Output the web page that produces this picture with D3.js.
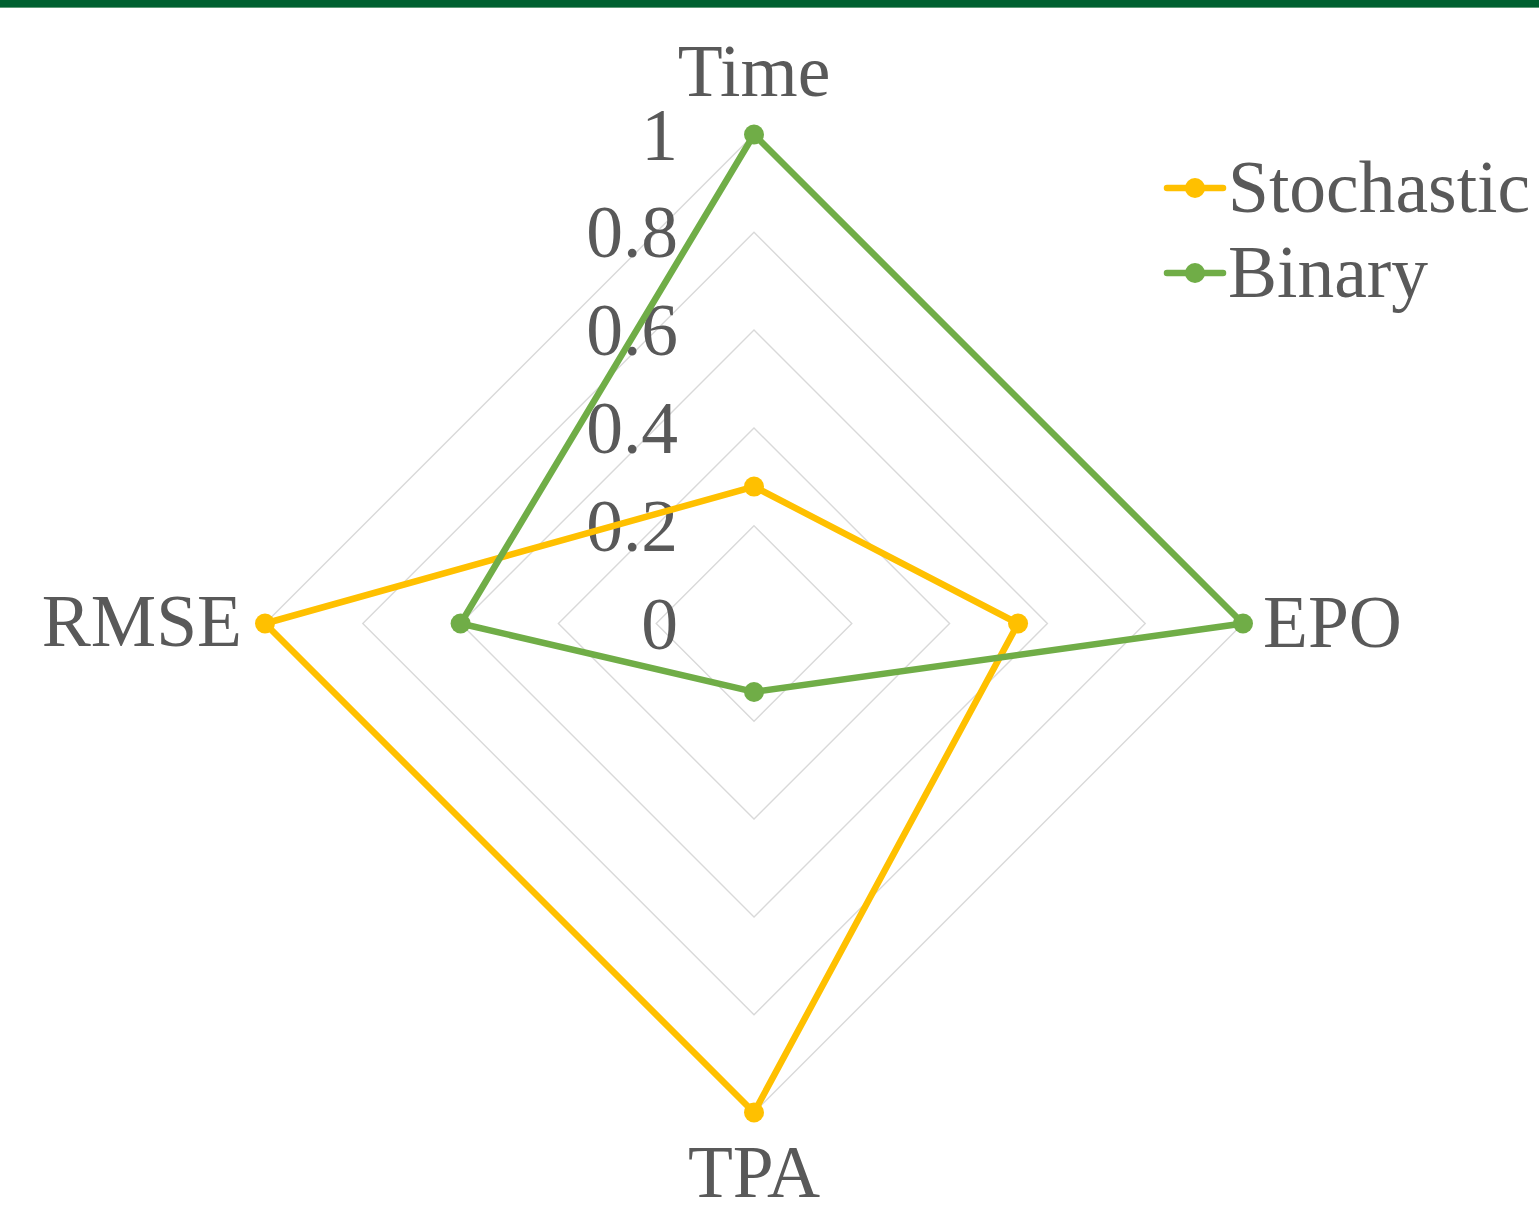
<!DOCTYPE html>
<html>
<head>
<meta charset="utf-8">
<script src="https://cdn.jsdelivr.net/npm/d3@7"></script>
<style>
  html, body { margin: 0; padding: 0; background: #ffffff; }
  svg { display: block; }
  text { font-family: "Liberation Serif", "Times New Roman", serif; fill: #595959; }
</style>
</head>
<body>
<svg id="chart" width="1539" height="1206"></svg>
<script>
// Radar axes, clockwise from the top
const axes = ["Time", "EPO", "TPA", "RMSE"];
// Normalised scores per method
const stochastic = [0.28, 0.54, 1.0, 1.0];
const binary = [1.0, 1.0, 0.14, 0.6];
const tickValues = [0, 0.2, 0.4, 0.6, 0.8, 1];
const tickLabels = ["0", "0.2", "0.4", "0.6", "0.8", "1"];
const seriesNames = ["Stochastic", "Binary"];
const seriesColors = ["#FFC000", "#70AD47"];

const svg = d3.select("#chart");
const W = 1539, H = 1206;
const cx = 754, cy = 623.5;
const FS = 73.5;

// Header band
svg.append("rect").attr("x", 0).attr("y", 0).attr("width", W).attr("height", 7).attr("fill", "#006030");
svg.append("rect").attr("x", 0).attr("y", 7).attr("width", W).attr("height", 1).attr("fill", "#5e9a78");

const r = d3.scaleLinear().domain([0, 1]).range([0, 489]);
const angle = d3.scalePoint().domain(axes).range([0, 2 * Math.PI * (axes.length - 1) / axes.length]);

const g = svg.append("g").attr("transform", `translate(${cx},${cy})`);

// Grid polygons
const ring = d3.lineRadial().angle(d => angle(d)).curve(d3.curveLinearClosed);
g.selectAll("path.grid")
  .data(tickValues.filter(v => v > 0))
  .join("path")
  .attr("class", "grid")
  .attr("d", v => ring.radius(() => r(v))(axes))
  .attr("fill", "none")
  .attr("stroke", "#d9d9d9")
  .attr("stroke-width", 1.4);

// Tick labels along the top spoke
g.selectAll("text.tick")
  .data(tickValues)
  .join("text")
  .attr("class", "tick")
  .attr("x", -76)
  .attr("y", v => -r(v))
  .attr("dy", "0.34em")
  .attr("text-anchor", "end")
  .attr("font-size", FS)
  .text((v, i) => tickLabels[i]);

// Series polygons and markers
const series = [stochastic, binary];
const line = d3.lineRadial()
  .angle((d, i) => angle(axes[i]))
  .radius(d => r(d))
  .curve(d3.curveLinearClosed);

series.forEach((vals, si) => {
  g.append("path")
    .attr("d", line(vals))
    .attr("fill", "none")
    .attr("stroke", seriesColors[si])
    .attr("stroke-width", 6.5)
    .attr("stroke-linejoin", "round");
  g.selectAll(null)
    .data(vals)
    .join("circle")
    .attr("cx", (d, i) => r(d) * Math.sin(angle(axes[i])))
    .attr("cy", (d, i) => -r(d) * Math.cos(angle(axes[i])))
    .attr("r", 10)
    .attr("fill", seriesColors[si]);
});

// Axis labels
const labelPos = {
  Time: { x: 0, y: -528, anchor: "middle" },
  EPO: { x: 509, y: 23, anchor: "start" },
  TPA: { x: 0, y: 573, anchor: "middle" },
  RMSE: { x: -512, y: 22, anchor: "end" }
};
axes.forEach(a => {
  g.append("text")
    .attr("x", labelPos[a].x)
    .attr("y", labelPos[a].y)
    .attr("text-anchor", labelPos[a].anchor)
    .attr("font-size", FS)
    .text(a);
});

// Legend
const legend = svg.append("g").attr("transform", "translate(1167,188)");
seriesNames.forEach((name, i) => {
  const row = legend.append("g").attr("transform", `translate(0,${i * 85})`);
  row.append("line").attr("x1", 0).attr("x2", 56).attr("y1", 0).attr("y2", 0)
    .attr("stroke", seriesColors[i]).attr("stroke-width", 6.5).attr("stroke-linecap", "round");
  row.append("circle").attr("cx", 28).attr("cy", 0).attr("r", 10).attr("fill", seriesColors[i]);
  row.append("text").attr("x", 61).attr("y", 24).attr("font-size", FS).text(name);
});
</script>
</body>
</html>
